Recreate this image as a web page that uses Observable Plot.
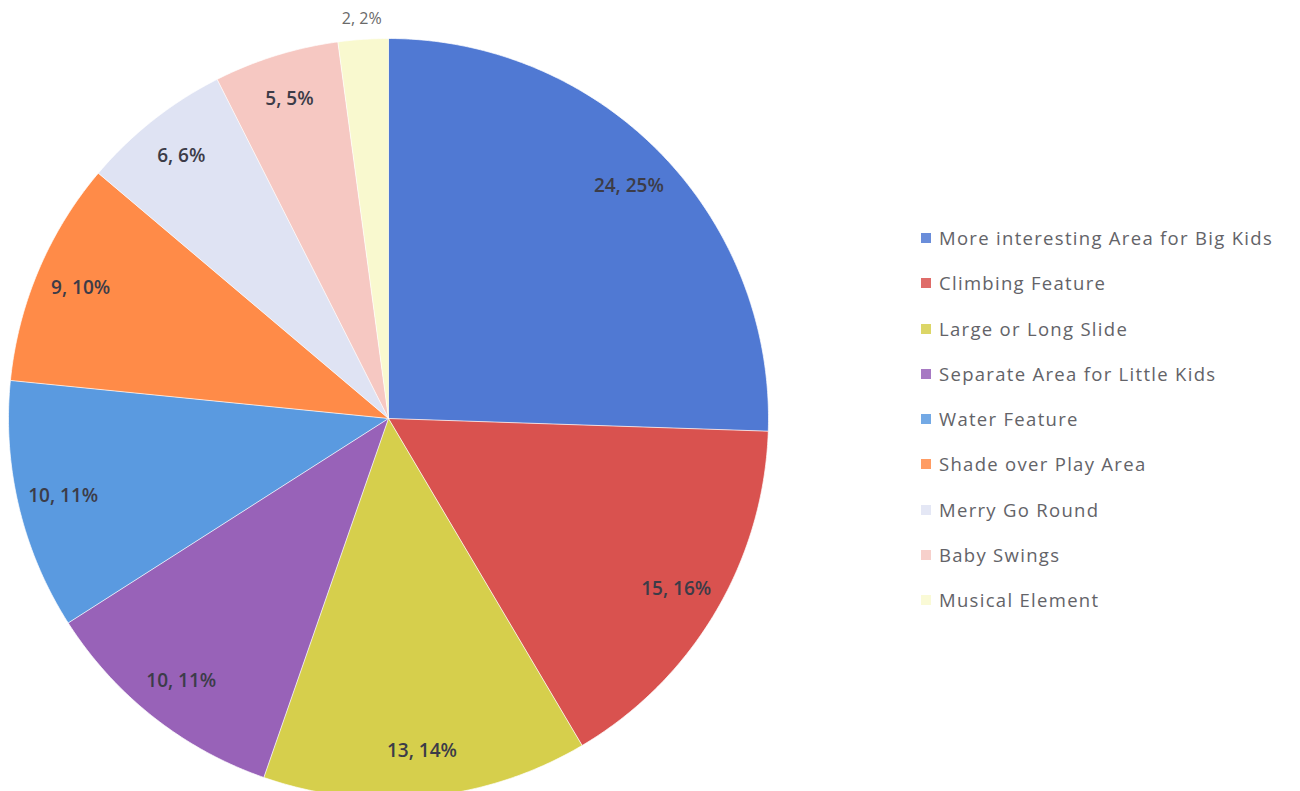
<!DOCTYPE html>
<html>
<head>
<meta charset="utf-8">
<script src="https://cdn.jsdelivr.net/npm/d3@7"></script>
<script src="https://cdn.jsdelivr.net/npm/@observablehq/plot@0.6"></script>
<style>
  html, body { margin: 0; padding: 0; background: #fff; overflow: hidden; width: 1300px; height: 791px; }
  #chart { position: absolute; left: 0; top: 0; }
  #legend { position: absolute; left: 921px; top: 225px; font-family: "Open Sans", sans-serif; font-size: 18.5px; color: #636368; }
  .row { height: 45.3px; display: flex; align-items: flex-start; white-space: nowrap; letter-spacing: 1.3px; }
  .sw { width: 10px; height: 10px; margin-right: 8px; margin-top: 8px; flex: none; opacity: 0.85; }
</style>
</head>
<body>
<div id="chart"></div>
<div id="legend"></div>
<script>
const categories = [
  "More interesting Area for Big Kids",
  "Climbing Feature",
  "Large or Long Slide",
  "Separate Area for Little Kids",
  "Water Feature",
  "Shade over Play Area",
  "Merry Go Round",
  "Baby Swings",
  "Musical Element"
];
const counts = [24, 15, 13, 10, 10, 9, 6, 5, 2];
const percents = [25, 16, 14, 11, 11, 10, 6, 5, 2];
const colors = ["#5079d3", "#d9524f", "#d6cf4c", "#9862b8", "#5a9ae0", "#ff8b48", "#dfe3f3", "#f6c8c2", "#f9f9cf"];

const rows = categories.map((c, i) => ({category: c, count: counts[i], pct: percents[i]}));
const arcs = d3.pie().sort(null).value(d => d.count)(rows);

// polygon outlines of each slice (unit circle, angles from d3.pie, clockwise from top)
const polys = [];
for (const a of arcs) {
  const steps = Math.max(2, Math.ceil((a.endAngle - a.startAngle) / (Math.PI / 360)));
  polys.push({category: a.data.category, x: 0, y: 0});
  for (let i = 0; i <= steps; i++) {
    const t = a.startAngle + (a.endAngle - a.startAngle) * i / steps;
    polys.push({category: a.data.category, x: Math.sin(t), y: Math.cos(t)});
  }
}

const labels = arcs.map(a => {
  const mid = (a.startAngle + a.endAngle) / 2;
  const share = (a.endAngle - a.startAngle) / (2 * Math.PI);
  const r = share < 0.03 ? 1.055 : 0.88;
  return {x: r * Math.sin(mid), y: r * Math.cos(mid), text: `${a.data.count}, ${a.data.pct}%`, outside: share < 0.03};
});

const chart = Plot.plot({
  width: 770,
  height: 800,
  marginLeft: 8,
  marginRight: 2,
  marginTop: 38,
  marginBottom: 2,
  style: {fontFamily: "'Open Sans', sans-serif", background: "transparent", overflow: "visible"},
  x: {domain: [-1, 1], axis: null},
  y: {domain: [-1, 1], axis: null},
  color: {domain: categories, range: colors},
  marks: [
    Plot.line(polys, {x: "x", y: "y", z: "category", fill: "category", stroke: "#ffffff", strokeWidth: 1, strokeOpacity: 0.7}),
    Plot.text(labels.filter(d => !d.outside), {x: "x", y: "y", text: "text", fill: "#3c3c48", fontSize: 19, fontWeight: 600, letterSpacing: 0.5}),
    Plot.text(labels.filter(d => d.outside), {x: "x", y: "y", text: "text", fill: "#6a6a6a", fontSize: 16, letterSpacing: 0.5})
  ]
});
document.getElementById("chart").appendChild(chart);

const legend = document.getElementById("legend");
categories.forEach((c, i) => {
  const row = document.createElement("div");
  row.className = "row";
  const sw = document.createElement("span");
  sw.className = "sw";
  sw.style.background = colors[i];
  const tx = document.createElement("span");
  tx.textContent = c;
  row.appendChild(sw);
  row.appendChild(tx);
  legend.appendChild(row);
});
</script>
</body>
</html>
